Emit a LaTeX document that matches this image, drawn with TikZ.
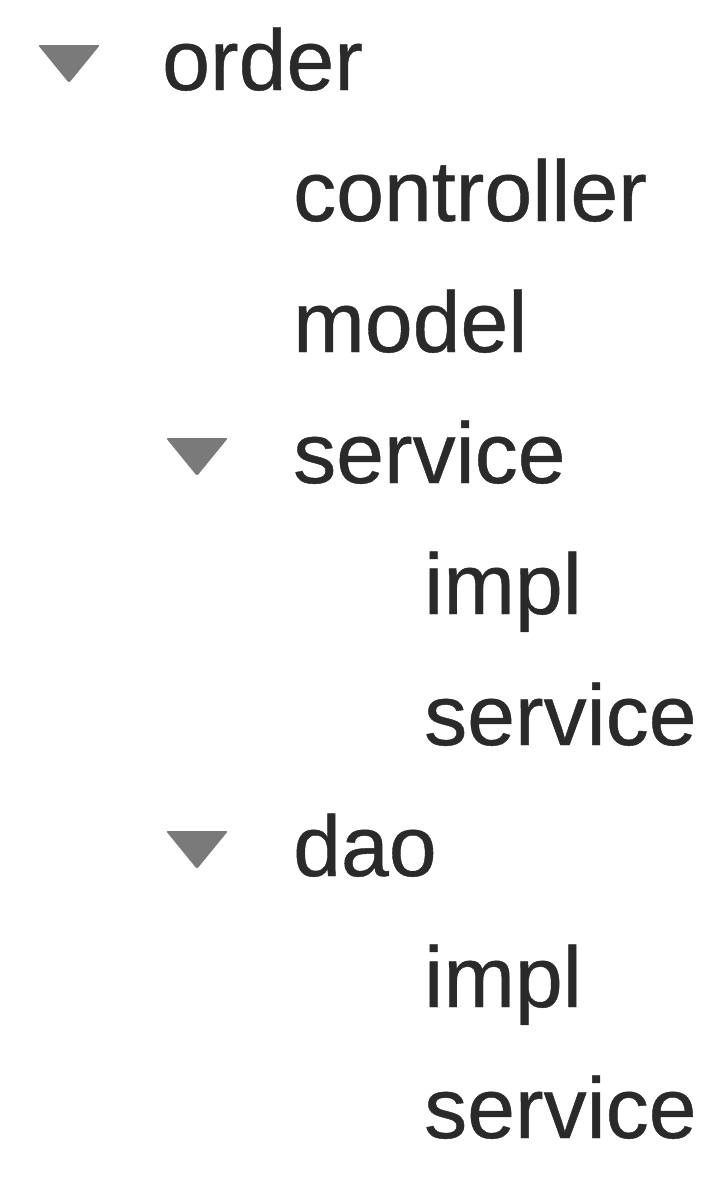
\documentclass[tikz,border=0pt]{standalone}
\usepackage{fontspec}
\setmainfont{Liberation Sans}
\newfontfamily\itemfont[FakeBold=0.5]{Liberation Sans}
\usetikzlibrary{positioning}
\definecolor{itemtext}{HTML}{2A2A2A}
\definecolor{arrowgray}{HTML}{7A7A7A}
\tikzset{
  item/.style={anchor=base west, inner sep=0pt, text=itemtext,
    font=\itemfont\fontsize{86}{100}\selectfont},
  expander/.pic={\fill[arrowgray, rounded corners=2pt]
    (-31pt,45pt) -- (31pt,45pt) -- (0pt,7pt) -- cycle;}
}

\begin{document}
\begin{tikzpicture}[x=1pt, y=1pt]
		\useasboundingbox (0,0) rectangle (720,-1178);
		\node [item] (order) at (162,-90) {order};
		\node [item] (controller) at ([xshift=131pt, yshift=-131pt]order.base west) {controller};
		\node [item] (model) at ([yshift=-131pt]controller.base west) {model};
		\node [item] (service) at ([yshift=-131pt]model.base west) {service};
		\node [item] (serviceimpl) at ([xshift=131pt, yshift=-131pt]service.base west) {impl};
		\node [item] (serviceservice) at ([yshift=-131pt]serviceimpl.base west) {service};
		\node [item] (dao) at ([xshift=-131pt, yshift=-131pt]serviceservice.base west) {dao};
		\node [item] (daoimpl) at ([xshift=131pt, yshift=-131pt]dao.base west) {impl};
		\node [item] (daoservice) at ([yshift=-131pt]daoimpl.base west) {service};
		
		\pic at ([xshift=-93pt]order.base west) {expander};
		\pic at ([xshift=-96pt]service.base west) {expander};
		\pic at ([xshift=-96pt]dao.base west) {expander};
	\end{tikzpicture}
\end{document}
